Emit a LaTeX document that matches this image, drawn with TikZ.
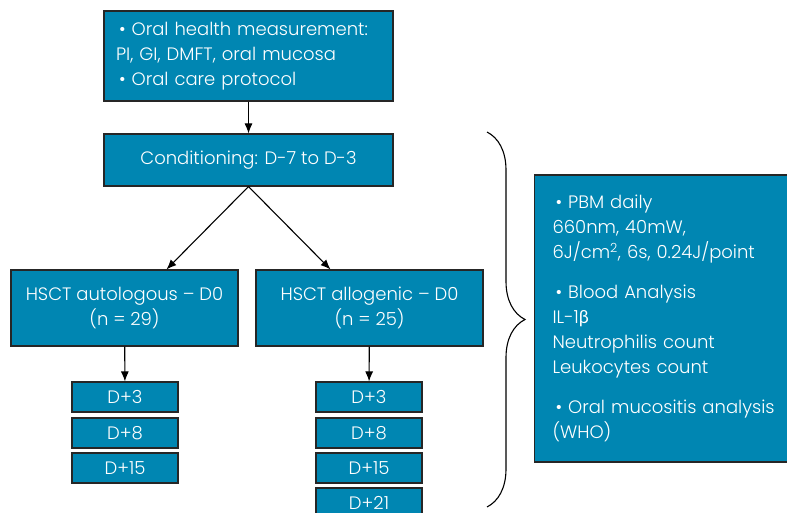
\documentclass[tikz,border=0pt]{standalone}
\usepackage{fontspec}
\setmainfont{Poppins}[UprightFont=* Light]
\newfontfamily\grk{Lato}
\usetikzlibrary{arrows.meta, decorations.pathreplacing}
\definecolor{boxblue}{RGB}{0,134,178}

\begin{document}
\begin{tikzpicture}[x=1pt, y=-1pt, -{Latex[length=10pt, width=8pt]}, every path/.style={line width=1.1pt},
  main node/.style={draw=black!85, fill=boxblue, text=white, font=\fontsize{18}{25}\selectfont, inner sep=0pt},
  day node/.style={main node, minimum width=106pt, minimum height=30pt}]
\useasboundingbox (0,0) rectangle (787,513);

\node [main node, minimum width=289pt, minimum height=90pt, text width=265pt, align=left] (care) at (248.5,56)
  {\,\textbullet\ Oral health measurement:\\PI, GI, DMFT, oral mucosa\\\,\textbullet\ Oral care protocol};
\node [main node, minimum width=289pt, minimum height=52pt] (cond) at (248.5,160) {Conditioning: D-7 to D-3};
\node [main node, minimum width=227pt, minimum height=76pt, align=center] (auto) at (124.5,308) {HSCT autologous -- D0\\(n = 29)};
\node [main node, minimum width=227pt, minimum height=76pt, align=center] (allo) at (369.5,308) {HSCT allogenic -- D0\\(n = 25)};

% follow-up days
\node [day node] (a3) at (125,397) {D+3};
\node [day node] (a8) at (125,433) {D+8};
\node [day node] (a15) at (125,468) {D+15};
\node [day node] (b3) at (369,397) {D+3};
\node [day node] (b8) at (369,433) {D+8};
\node [day node] (b15) at (369,468) {D+15};
\node [day node] (b21) at (369,503) {D+21};

\node [main node, minimum width=266pt, minimum height=287pt, text width=230pt, inner xsep=18pt, align=left, anchor=west] (pbm) at (534,318.5)
  {\,\textbullet\ PBM daily\\660nm, 40mW,\\6J/cm\textsuperscript{2}, 6s, 0.24J/point\\[15pt]
   \,\textbullet\ Blood Analysis\\IL-1{\grk β}\\Neutrophilis count\\Leukocytes count\\[15pt]
   \,\textbullet\ Oral mucositis analysis\\(WHO)};

\draw (care) -- (cond);
\draw (cond.south) -- ([xshift=42pt]auto.north);
\draw (cond.south) -- ([xshift=-39pt]allo.north);
\draw (auto) -- (a3);
\draw (allo) -- (b3);

\coordinate (bracetop) at (487,132);
\coordinate (bracebot) at (487,507);
\draw [-, decorate, decoration={brace, amplitude=38pt}] (bracetop) -- (bracebot);
\end{tikzpicture}
\end{document}
